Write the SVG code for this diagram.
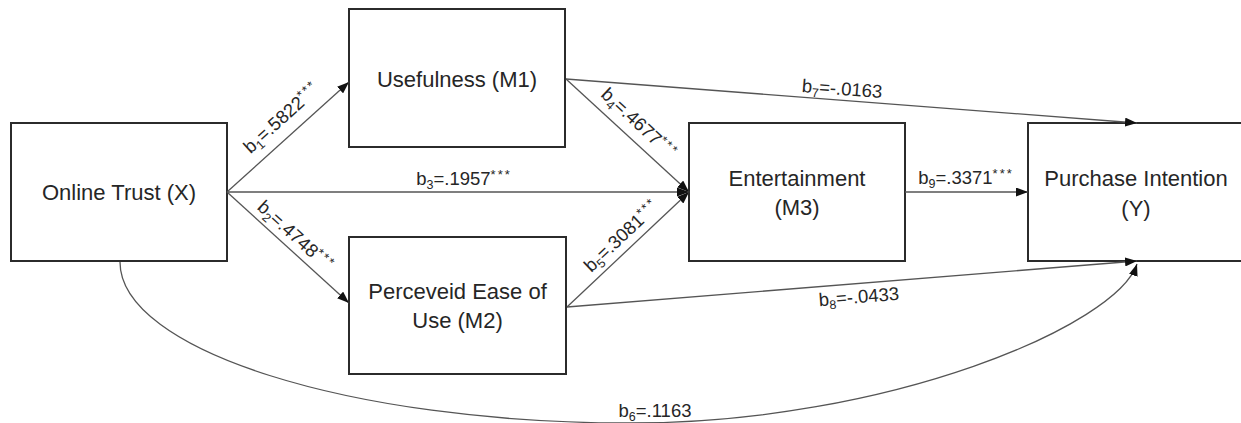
<svg xmlns="http://www.w3.org/2000/svg" width="1241" height="423" viewBox="0 0 1241 423">
<style>
.box{fill:#fff;stroke:#2b2b2b;stroke-width:2}
.nt{font-family:"Liberation Sans",Arial,sans-serif;font-size:22px;fill:#262626;text-anchor:middle}
.et{font-family:"Liberation Sans",Arial,sans-serif;font-size:18.5px;fill:#262626;text-anchor:middle}
.sub{font-size:12.5px}
.st{font-size:13px;letter-spacing:2px}
.ln{fill:none;stroke:#555;stroke-width:1.3}
</style>
<defs>
<marker id="ah" viewBox="0 0 12 9" refX="12" refY="4.5" markerWidth="12" markerHeight="9" markerUnits="userSpaceOnUse" orient="auto">
<path d="M0,0 L12,4.5 L0,9 z" fill="#111"/>
</marker>
</defs>
<rect width="1241" height="423" fill="#fff"/>
<g id="node-x">
<rect class="box" x="11" y="123" width="216" height="138"/>
<text class="nt" x="119" y="200">Online Trust (X)</text>
</g>
<g id="node-m1">
<rect class="box" x="349" y="9" width="216" height="138"/>
<text class="nt" x="457" y="87">Usefulness (M1)</text>
</g>
<g id="node-m2">
<rect class="box" x="349" y="237" width="217" height="137"/>
<text class="nt" x="457.5" y="299">Perceveid Ease of</text>
<text class="nt" x="457.5" y="328">Use (M2)</text>
</g>
<g id="node-m3">
<rect class="box" x="689" y="123" width="216" height="138"/>
<text class="nt" x="797" y="186">Entertainment</text>
<text class="nt" x="797" y="215">(M3)</text>
</g>
<g id="node-y">
<rect class="box" x="1028" y="123" width="216" height="138"/>
<text class="nt" x="1136" y="186">Purchase Intention</text>
<text class="nt" x="1136" y="216">(Y)</text>
</g>
<g id="connectors">
<line class="ln" x1="227" y1="192" x2="349" y2="82" marker-end="url(#ah)"/>
<line class="ln" x1="227" y1="192" x2="689" y2="192" marker-end="url(#ah)"/>
<line class="ln" x1="227" y1="192" x2="349" y2="303" marker-end="url(#ah)"/>
<line class="ln" x1="566" y1="79" x2="689" y2="192" marker-end="url(#ah)"/>
<line class="ln" x1="567" y1="307" x2="689" y2="192" marker-end="url(#ah)"/>
<line class="ln" x1="566" y1="79" x2="1137" y2="123" marker-end="url(#ah)"/>
<line class="ln" x1="567" y1="307" x2="1137" y2="261" marker-end="url(#ah)"/>
<line class="ln" x1="905" y1="192" x2="1028" y2="192" marker-end="url(#ah)"/>
<path class="ln" d="M120,262 C120,350 349,423 630,423 C890,423 1117,325 1137,264" marker-end="url(#ah)"/>
<text class="et" transform="translate(282.5,118.5) rotate(-42.3)" y="5">b<tspan class="sub" dy="4">1</tspan><tspan dy="-4">=.5822</tspan><tspan class="st" dy="-6">***</tspan></text>
<text class="et" transform="translate(295,237) rotate(42.3)" y="5">b<tspan class="sub" dy="4">2</tspan><tspan dy="-4">=.4748</tspan><tspan class="st" dy="-6">***</tspan></text>
<text class="et" x="464" y="185">b<tspan class="sub" dy="4">3</tspan><tspan dy="-4">=.1957</tspan><tspan class="st" dy="-6">***</tspan></text>
<text class="et" transform="translate(638.5,124.5) rotate(42.8)" y="5">b<tspan class="sub" dy="4">4</tspan><tspan dy="-4">=.4677</tspan><tspan class="st" dy="-6">***</tspan></text>
<text class="et" transform="translate(622.5,236.5) rotate(-43.3)" y="5">b<tspan class="sub" dy="4">5</tspan><tspan dy="-4">=.3081</tspan><tspan class="st" dy="-6">***</tspan></text>
<text class="et" x="655" y="417">b<tspan class="sub" dy="4">6</tspan><tspan dy="-4">=.1163</tspan></text>
<text class="et" transform="translate(842,90) rotate(4.4)" y="5">b<tspan class="sub" dy="4">7</tspan><tspan dy="-4">=-.0163</tspan></text>
<text class="et" transform="translate(859,298) rotate(-4.6)" y="5">b<tspan class="sub" dy="4">8</tspan><tspan dy="-4">=-.0433</tspan></text>
<text class="et" x="966" y="184">b<tspan class="sub" dy="4">9</tspan><tspan dy="-4">=.3371</tspan><tspan class="st" dy="-6">***</tspan></text>
</g>
</svg>
